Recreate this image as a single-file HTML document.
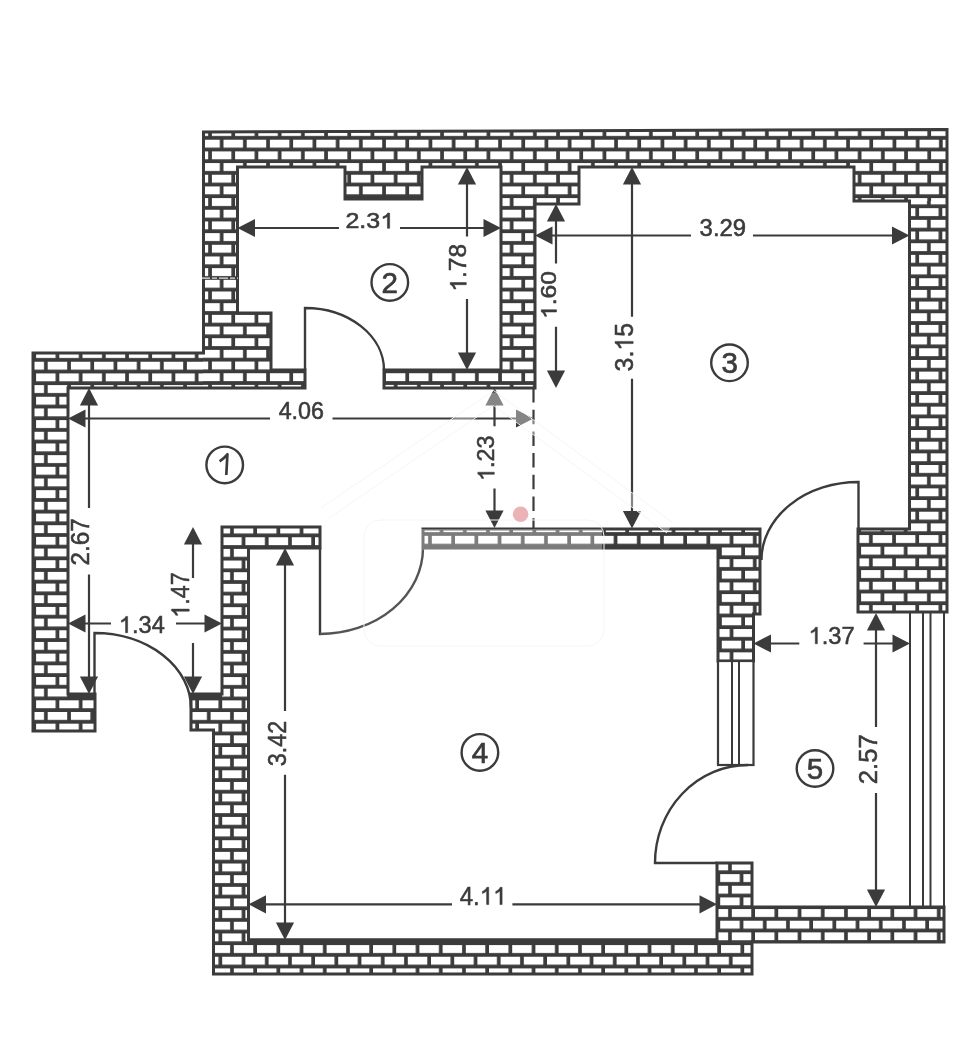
<!DOCTYPE html>
<html><head><meta charset="utf-8"><style>
html,body{margin:0;padding:0;background:#fff;width:968px;height:1037px;overflow:hidden;}
svg{display:block;will-change:transform;font-family:"Liberation Sans",sans-serif;}
</style></head><body>
<svg width="968" height="1037" viewBox="0 0 968 1037">
<defs><pattern id="pA" patternUnits="userSpaceOnUse" x="3.1" y="11.3" width="23.2" height="23.35">
<rect x="0" y="0" width="23.2" height="23.35" fill="#3b3b3b"/>
<rect x="0" y="0" width="19.5" height="7.9" fill="#fff"/>
<rect x="11.6" y="11.675" width="19.5" height="7.9" fill="#fff"/>
<rect x="-11.6" y="11.675" width="19.5" height="7.9" fill="#fff"/>
</pattern><pattern id="pB" patternUnits="userSpaceOnUse" x="1.3" y="11.5" width="23.2" height="23.35">
<rect x="0" y="0" width="23.2" height="23.35" fill="#3b3b3b"/>
<rect x="0" y="0" width="19.5" height="7.9" fill="#fff"/>
<rect x="11.6" y="11.675" width="19.5" height="7.9" fill="#fff"/>
<rect x="-11.6" y="11.675" width="19.5" height="7.9" fill="#fff"/>
</pattern><pattern id="pC" patternUnits="userSpaceOnUse" x="2.7" y="9.7" width="23.2" height="23.35">
<rect x="0" y="0" width="23.2" height="23.35" fill="#3b3b3b"/>
<rect x="0" y="0" width="19.5" height="7.9" fill="#fff"/>
<rect x="11.6" y="11.675" width="19.5" height="7.9" fill="#fff"/>
<rect x="-11.6" y="11.675" width="19.5" height="7.9" fill="#fff"/>
</pattern><pattern id="pD" patternUnits="userSpaceOnUse" x="1.8" y="12.86" width="23.2" height="23.306">
<rect x="0" y="0" width="23.2" height="23.306" fill="#3b3b3b"/>
<rect x="0" y="0" width="19.5" height="7.9" fill="#fff"/>
<rect x="11.6" y="11.653" width="19.5" height="7.9" fill="#fff"/>
<rect x="-11.6" y="11.653" width="19.5" height="7.9" fill="#fff"/>
</pattern><pattern id="pE" patternUnits="userSpaceOnUse" x="1.0" y="11.8" width="23.2" height="23.306">
<rect x="0" y="0" width="23.2" height="23.306" fill="#3b3b3b"/>
<rect x="0" y="0" width="19.5" height="7.9" fill="#fff"/>
<rect x="11.6" y="11.653" width="19.5" height="7.9" fill="#fff"/>
<rect x="-11.6" y="11.653" width="19.5" height="7.9" fill="#fff"/>
</pattern><pattern id="pF" patternUnits="userSpaceOnUse" x="2.6" y="11.6" width="23.2" height="23.3">
<rect x="0" y="0" width="23.2" height="23.3" fill="#3b3b3b"/>
<rect x="0" y="0" width="19.5" height="7.9" fill="#fff"/>
<rect x="11.6" y="11.65" width="19.5" height="7.9" fill="#fff"/>
<rect x="-11.6" y="11.65" width="19.5" height="7.9" fill="#fff"/>
</pattern><clipPath id="cl0"><path d="M203.5,132 L947,129.5 L947,612 L858,612 L858,529 L909.5,529 L909.5,201 L854,201 L854,167 L579,167 L579,204 L535,204 L535,388 L384,388 L384,370 L501,370 L501,167 L422,167 L422,199 L345,199 L345,167 L237.5,167 L237.5,313 L271,313 L271,370 L305,370 L305,388 L68,388 L68,694 L95,694 L95,731 L33,731 L33,353 L203.5,353 Z"/></clipPath><clipPath id="cl1"><path d="M222,527 L320,527 L320,548 L248.5,548 L248.5,940 L717,940 L717,863 L752,863 L752,907 L944,907 L944,942 L752,942 L752,974 L213.5,974 L213.5,730 L191,730 L191,694 L222,694 Z"/></clipPath><clipPath id="cl2"><path d="M423,529 L760,529 L760,614 L753.5,614 L753.5,661 L718,661 L718,548 L423,548 Z"/></clipPath></defs>
<rect width="968" height="1037" fill="#fff"/>
<g clip-path="url(#cl0)"><rect x="0" y="0" width="968" height="1037" fill="url(#pA)"/><rect x="0" y="340" width="203" height="400" fill="url(#pB)"/><rect x="854" y="201" width="114" height="439" fill="url(#pC)"/></g>
<path d="M203.5,132 L947,129.5 L947,612 L858,612 L858,529 L909.5,529 L909.5,201 L854,201 L854,167 L579,167 L579,204 L535,204 L535,388 L384,388 L384,370 L501,370 L501,167 L422,167 L422,199 L345,199 L345,167 L237.5,167 L237.5,313 L271,313 L271,370 L305,370 L305,388 L68,388 L68,694 L95,694 L95,731 L33,731 L33,353 L203.5,353 Z" fill="none" stroke="#3b3b3b" stroke-width="3" stroke-linejoin="miter"/>
<g clip-path="url(#cl1)"><rect x="0" y="0" width="968" height="1037" fill="url(#pD)"/><rect x="717" y="855" width="251" height="87" fill="url(#pE)"/></g>
<path d="M222,527 L320,527 L320,548 L248.5,548 L248.5,940 L717,940 L717,863 L752,863 L752,907 L944,907 L944,942 L752,942 L752,974 L213.5,974 L213.5,730 L191,730 L191,694 L222,694 Z" fill="none" stroke="#3b3b3b" stroke-width="3" stroke-linejoin="miter"/>
<g clip-path="url(#cl2)"><rect x="0" y="0" width="968" height="1037" fill="url(#pF)"/></g>
<path d="M423,529 L760,529 L760,614 L753.5,614 L753.5,661 L718,661 L718,548 L423,548 Z" fill="none" stroke="#3b3b3b" stroke-width="3" stroke-linejoin="miter"/>
<path d="M248.5,941 H717 M68,695.5 H95 M191,695.5 H222" stroke="#3b3b3b" stroke-width="5"/>
<path d="M201,278.2 H238" stroke="#fff" stroke-width="1.3" opacity="0.85" stroke-dasharray="9,2,5,2"/>
<rect x="718" y="661" width="35.5" height="104" fill="#fff" stroke="#3b3b3b" stroke-width="2.2"/>
<path d="M732,661 V765 M739,661 V765" stroke="#3b3b3b" stroke-width="2"/>
<path d="M910,612 V907 M923,612 V907 M930.5,612 V907 M944,612 V907" stroke="#3b3b3b" stroke-width="2"/>
<path d="M533.5,388 V529" stroke="#3b3b3b" stroke-width="2.2" stroke-dasharray="14.5,7.2"/>
<path d="M305,370 L305,308 A79,62 0 0 1 384,370" fill="none" stroke="#3b3b3b" stroke-width="2.4"/>
<path d="M320,548 L320,634 A103,86 0 0 0 423,548" fill="none" stroke="#3b3b3b" stroke-width="2.4"/>
<path d="M94.5,694 L94.5,633 A96.5,75 0 0 1 191,708" fill="none" stroke="#3b3b3b" stroke-width="2.4"/>
<path d="M858.5,529 L858.5,482 A97,78 0 0 0 761.5,560" fill="none" stroke="#3b3b3b" stroke-width="2.4"/>
<path d="M717,863 L655,863 A93,98 0 0 1 748,765" fill="none" stroke="#3b3b3b" stroke-width="2.4"/>
<path d="M253.0,228 H339 M400,228 H485.5" stroke="#3b3b3b" stroke-width="2.2"/>
<path d="M237.5,228 L255.0,218.9 L255.0,237.1 Z" fill="#3b3b3b"/>
<path d="M501,228 L483.5,237.1 L483.5,218.9 Z" fill="#3b3b3b"/>
<path d="M467,182.5 V236.5 M467,299 V354.5" stroke="#3b3b3b" stroke-width="2.2"/>
<path d="M467,167 L476.1,184.5 L457.9,184.5 Z" fill="#3b3b3b"/>
<path d="M467,370 L457.9,352.5 L476.1,352.5 Z" fill="#3b3b3b"/>
<path d="M550.5,235.5 H691 M753,235.5 H894.0" stroke="#3b3b3b" stroke-width="2.2"/>
<path d="M535,235.5 L552.5,226.4 L552.5,244.6 Z" fill="#3b3b3b"/>
<path d="M909.5,235.5 L892.0,244.6 L892.0,226.4 Z" fill="#3b3b3b"/>
<path d="M556,219.5 V263.4 M556,326.7 V372.5" stroke="#3b3b3b" stroke-width="2.2"/>
<path d="M556,204 L565.1,221.5 L546.9,221.5 Z" fill="#3b3b3b"/>
<path d="M556,388 L546.9,370.5 L565.1,370.5 Z" fill="#3b3b3b"/>
<path d="M632,182.5 V316.7 M632,378.7 V513.0" stroke="#3b3b3b" stroke-width="2.2"/>
<path d="M632,167 L641.1,184.5 L622.9,184.5 Z" fill="#3b3b3b"/>
<path d="M632,528.5 L622.9,511.0 L641.1,511.0 Z" fill="#3b3b3b"/>
<path d="M83.5,418.5 H270 M332.5,418.5 H518.0" stroke="#3b3b3b" stroke-width="2.2"/>
<path d="M68,418.5 L85.5,409.4 L85.5,427.6 Z" fill="#3b3b3b"/>
<path d="M533.5,418.5 L516.0,427.6 L516.0,409.4 Z" fill="#3b3b3b"/>
<path d="M494.5,403.5 V426.3 M494.5,488.5 V512.5" stroke="#3b3b3b" stroke-width="2.2"/>
<path d="M494.5,388 L503.6,405.5 L485.4,405.5 Z" fill="#3b3b3b"/>
<path d="M494.5,528 L485.4,510.5 L503.6,510.5 Z" fill="#3b3b3b"/>
<path d="M89,403.5 V508 M89,574.4 V678.5" stroke="#3b3b3b" stroke-width="2.2"/>
<path d="M89,388 L98.1,405.5 L79.9,405.5 Z" fill="#3b3b3b"/>
<path d="M89,694 L79.9,676.5 L98.1,676.5 Z" fill="#3b3b3b"/>
<path d="M193,542.5 V578 M193,643 V678.5" stroke="#3b3b3b" stroke-width="2.2"/>
<path d="M193,527 L202.1,544.5 L183.9,544.5 Z" fill="#3b3b3b"/>
<path d="M193,694 L183.9,676.5 L202.1,676.5 Z" fill="#3b3b3b"/>
<path d="M83.5,623.5 H111 M176,623.5 H206.5" stroke="#3b3b3b" stroke-width="2.2"/>
<path d="M68,623.5 L85.5,614.4 L85.5,632.6 Z" fill="#3b3b3b"/>
<path d="M222,623.5 L204.5,632.6 L204.5,614.4 Z" fill="#3b3b3b"/>
<path d="M285,563.5 V711 M285,774.7 V924.5" stroke="#3b3b3b" stroke-width="2.2"/>
<path d="M285,548 L294.1,565.5 L275.9,565.5 Z" fill="#3b3b3b"/>
<path d="M285,940 L275.9,922.5 L294.1,922.5 Z" fill="#3b3b3b"/>
<path d="M264.0,904.3 H452 M512.4,904.3 H701.5" stroke="#3b3b3b" stroke-width="2.2"/>
<path d="M248.5,904.3 L266.0,895.2 L266.0,913.4 Z" fill="#3b3b3b"/>
<path d="M717,904.3 L699.5,913.4 L699.5,895.2 Z" fill="#3b3b3b"/>
<path d="M769.0,643.5 H799.3 M863.6,643.5 H894.5" stroke="#3b3b3b" stroke-width="2.2"/>
<path d="M753.5,643.5 L771.0,634.4 L771.0,652.6 Z" fill="#3b3b3b"/>
<path d="M910,643.5 L892.5,652.6 L892.5,634.4 Z" fill="#3b3b3b"/>
<path d="M876,628.5 V727 M876,793 V891.5" stroke="#3b3b3b" stroke-width="2.2"/>
<path d="M876,613 L885.1,630.5 L866.9,630.5 Z" fill="#3b3b3b"/>
<path d="M876,907 L866.9,889.5 L885.1,889.5 Z" fill="#3b3b3b"/>
<g transform="translate(345.45,228.28) scale(1.137,1)"><text x="0.00 12.25 18.38" y="0" font-size="22.03" font-family="Liberation Sans, sans-serif" fill="#3b3b3b" stroke="#3b3b3b" stroke-width="0.55">2.3</text><path d="M373,0 L285,0 L285,538 C253,509 185,464 109,443 L109,525 C185,554 264,610 294,688 L373,688 Z" transform="translate(30.63,0) scale(0.02203,-0.02203)" fill="#3b3b3b" stroke="#3b3b3b" stroke-width="25.0"/></g>
<g transform="translate(699.59,235.97) scale(1.020,1)"><text x="0.00 13.04 19.55 32.59" y="0" font-size="23.45" font-family="Liberation Sans, sans-serif" fill="#3b3b3b" stroke="#3b3b3b" stroke-width="0.55">3.29</text></g>
<g transform="translate(278.66,419.07) scale(0.994,1)"><text x="0.00 13.04 19.55 32.59" y="0" font-size="23.45" font-family="Liberation Sans, sans-serif" fill="#3b3b3b" stroke="#3b3b3b" stroke-width="0.55">4.06</text></g>
<g transform="translate(118.83,632.76) scale(0.995,1)"><text x="13.20 19.79 32.99" y="0" font-size="23.73" font-family="Liberation Sans, sans-serif" fill="#3b3b3b" stroke="#3b3b3b" stroke-width="0.55">.34</text><path d="M373,0 L285,0 L285,538 C253,509 185,464 109,443 L109,525 C185,554 264,610 294,688 L373,688 Z" transform="translate(0.00,0) scale(0.02373,-0.02373)" fill="#3b3b3b" stroke="#3b3b3b" stroke-width="23.2"/></g>
<g transform="translate(459.75,904.60) scale(0.955,1)"><text x="0.00 13.98" y="0" font-size="25.15" font-family="Liberation Sans, sans-serif" fill="#3b3b3b" stroke="#3b3b3b" stroke-width="0.55">4.</text><path d="M373,0 L285,0 L285,538 C253,509 185,464 109,443 L109,525 C185,554 264,610 294,688 L373,688 Z" transform="translate(20.97,0) scale(0.02515,-0.02515)" fill="#3b3b3b" stroke="#3b3b3b" stroke-width="21.9"/><path d="M373,0 L285,0 L285,538 C253,509 185,464 109,443 L109,525 C185,554 264,610 294,688 L373,688 Z" transform="translate(34.96,0) scale(0.02515,-0.02515)" fill="#3b3b3b" stroke="#3b3b3b" stroke-width="21.9"/></g>
<g transform="translate(808.51,643.76) scale(0.988,1)"><text x="13.35 20.03 33.38" y="0" font-size="24.01" font-family="Liberation Sans, sans-serif" fill="#3b3b3b" stroke="#3b3b3b" stroke-width="0.55">.37</text><path d="M373,0 L285,0 L285,538 C253,509 185,464 109,443 L109,525 C185,554 264,610 294,688 L373,688 Z" transform="translate(0.00,0) scale(0.02401,-0.02401)" fill="#3b3b3b" stroke="#3b3b3b" stroke-width="22.9"/></g>
<g transform="translate(466.27,291.67) rotate(-90) scale(1.052,1)"><text x="12.96 19.44 32.40" y="0" font-size="23.31" font-family="Liberation Sans, sans-serif" fill="#3b3b3b" stroke="#3b3b3b" stroke-width="0.55">.78</text><path d="M373,0 L285,0 L285,538 C253,509 185,464 109,443 L109,525 C185,554 264,610 294,688 L373,688 Z" transform="translate(0.00,0) scale(0.02331,-0.02331)" fill="#3b3b3b" stroke="#3b3b3b" stroke-width="23.6"/></g>
<g transform="translate(556.48,318.99) rotate(-90) scale(1.111,1)"><text x="12.33 18.49 30.83" y="0" font-size="22.18" font-family="Liberation Sans, sans-serif" fill="#3b3b3b" stroke="#3b3b3b" stroke-width="0.55">.60</text><path d="M373,0 L285,0 L285,538 C253,509 185,464 109,443 L109,525 C185,554 264,610 294,688 L373,688 Z" transform="translate(0.00,0) scale(0.02218,-0.02218)" fill="#3b3b3b" stroke="#3b3b3b" stroke-width="24.8"/></g>
<g transform="translate(633.14,371.45) rotate(-90) scale(0.948,1)"><text x="0.00 14.61 36.52" y="0" font-size="26.27" font-family="Liberation Sans, sans-serif" fill="#3b3b3b" stroke="#3b3b3b" stroke-width="0.55">3.5</text><path d="M373,0 L285,0 L285,538 C253,509 185,464 109,443 L109,525 C185,554 264,610 294,688 L373,688 Z" transform="translate(21.91,0) scale(0.02627,-0.02627)" fill="#3b3b3b" stroke="#3b3b3b" stroke-width="20.9"/></g>
<g transform="translate(494.26,480.95) rotate(-90) scale(0.981,1)"><text x="13.28 19.91 33.18" y="0" font-size="23.87" font-family="Liberation Sans, sans-serif" fill="#3b3b3b" stroke="#3b3b3b" stroke-width="0.55">.23</text><path d="M373,0 L285,0 L285,538 C253,509 185,464 109,443 L109,525 C185,554 264,610 294,688 L373,688 Z" transform="translate(0.00,0) scale(0.02387,-0.02387)" fill="#3b3b3b" stroke="#3b3b3b" stroke-width="23.0"/></g>
<g transform="translate(89.49,565.41) rotate(-90) scale(0.914,1)"><text x="0.00 14.73 22.09 36.82" y="0" font-size="26.48" font-family="Liberation Sans, sans-serif" fill="#3b3b3b" stroke="#3b3b3b" stroke-width="0.55">2.67</text></g>
<g transform="translate(189.20,617.86) rotate(-90) scale(0.916,1)"><text x="14.23 21.33 35.56" y="0" font-size="25.58" font-family="Liberation Sans, sans-serif" fill="#3b3b3b" stroke="#3b3b3b" stroke-width="0.55">.47</text><path d="M373,0 L285,0 L285,538 C253,509 185,464 109,443 L109,525 C185,554 264,610 294,688 L373,688 Z" transform="translate(0.00,0) scale(0.02558,-0.02558)" fill="#3b3b3b" stroke="#3b3b3b" stroke-width="21.5"/></g>
<g transform="translate(285.65,766.29) rotate(-90) scale(0.919,1)"><text x="0.00 14.14 21.20 35.34" y="0" font-size="25.42" font-family="Liberation Sans, sans-serif" fill="#3b3b3b" stroke="#3b3b3b" stroke-width="0.55">3.42</text></g>
<g transform="translate(876.94,784.29) rotate(-90) scale(0.979,1)"><text x="0.00 14.61 21.91 36.52" y="0" font-size="26.27" font-family="Liberation Sans, sans-serif" fill="#3b3b3b" stroke="#3b3b3b" stroke-width="0.55">2.57</text></g>
<circle cx="224.7" cy="464.9" r="18.3" fill="none" stroke="#3b3b3b" stroke-width="2.4"/>
<path d="M219.6,461.4 Q223.8,458.6 227.4,454.3 L226.3,475" fill="none" stroke="#3b3b3b" stroke-width="2.7" stroke-linejoin="round"/>
<circle cx="389.8" cy="282.4" r="18.3" fill="none" stroke="#3b3b3b" stroke-width="2.4"/>
<g transform="translate(381.60,292.70) scale(1.000,1)"><text x="0.00" y="0" font-size="29.50" font-family="Liberation Sans, sans-serif" fill="#3b3b3b" stroke="#3b3b3b" stroke-width="0.7">2</text></g>
<circle cx="729.5" cy="362.8" r="18.3" fill="none" stroke="#3b3b3b" stroke-width="2.4"/>
<g transform="translate(721.39,372.95) scale(1.000,1)"><text x="0.00" y="0" font-size="29.50" font-family="Liberation Sans, sans-serif" fill="#3b3b3b" stroke="#3b3b3b" stroke-width="0.7">3</text></g>
<circle cx="479.9" cy="752.4" r="18.3" fill="none" stroke="#3b3b3b" stroke-width="2.4"/>
<g transform="translate(471.79,762.55) scale(1.000,1)"><text x="0.00" y="0" font-size="29.50" font-family="Liberation Sans, sans-serif" fill="#3b3b3b" stroke="#3b3b3b" stroke-width="0.7">4</text></g>
<circle cx="815" cy="768.5" r="18.3" fill="none" stroke="#3b3b3b" stroke-width="2.4"/>
<g transform="translate(806.83,778.50) scale(1.000,1)"><text x="0.00" y="0" font-size="29.50" font-family="Liberation Sans, sans-serif" fill="#3b3b3b" stroke="#3b3b3b" stroke-width="0.7">5</text></g>
<g opacity="0.38"><path d="M325,513 L493.6,398 L670,528" fill="none" stroke="#fff" stroke-width="11" stroke-linejoin="round"/></g><g opacity="0.33"><rect x="366" y="529" width="236" height="21" fill="#fff"/><path d="M320,634 A103,86 0 0 0 423,548" fill="none" stroke="#fff" stroke-width="3" opacity="0.4"/></g>
<g fill="none" stroke="#f5f5f5" stroke-width="1"><path d="M321,508 L493.6,390.5 L673,523"/><path d="M329,518 L493.6,405.5 L667,533"/><rect x="364" y="520" width="240" height="126" rx="16"/></g>
<circle cx="520.6" cy="514.3" r="7.8" fill="#ecb3b6"/>
</svg></body></html>
